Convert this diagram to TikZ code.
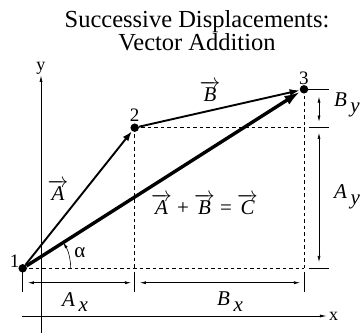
\documentclass[tikz,border=0pt]{standalone}
\usepackage{fontspec}
\setmainfont{Liberation Serif}
\usepackage{tikz}
\usetikzlibrary{arrows.meta,positioning}
\newcommand{\vlab}[1]{$\overrightarrow{\textit{#1}}$}
\newcommand{\vcomp}[2]{\textit{#1}\,\raisebox{-0.6ex}{\textit{#2}}}

\begin{document}
\begin{tikzpicture}[
    x=1pt, y=1pt,
    pointdot/.style={circle, fill, inner sep=0pt, minimum size=8.5pt},
    vec/.style={-{Latex[length=10pt, width=7pt]}, line width=1.9pt},
    res/.style={-{Latex[length=16pt, width=10pt]}, line width=3.4pt},
    guide/.style={line width=0.6pt, dash pattern=on 3.5pt off 3pt},
    dim/.style={{Latex[length=6pt, width=3pt]}-{Latex[length=6pt, width=3pt]}, line width=0.6pt},
    tick/.style={line width=0.6pt},
    axis/.style={-{Latex[length=7pt, width=3pt]}, line width=0.8pt},
    title/.style={align=center, font=\fontsize{24.5}{22}\selectfont},
    lab/.style={font=\fontsize{21}{21}\selectfont},
    num/.style={font=\fontsize{19}{19}\selectfont, inner sep=1pt},
    axlab/.style={font=\fontsize{18}{18}\selectfont, inner sep=1pt}
]
    \useasboundingbox (0,0) rectangle (360,333);

    % Title
    \node[title] (title) at (197,302) {Successive Displacements:\\Vector Addition};

    % Axes
    \coordinate (xa0) at (22,17);
    \coordinate (xa1) at (327,17);
    \coordinate (ya0) at (41,0);
    \coordinate (ya1) at (41,258);
    \draw[axis] (xa0) -- (xa1);
    \draw[axis] (ya0) -- (ya1);
    \node[axlab, right=1pt of xa1] (xlab) {x};
    \node[axlab, above=-1pt of ya1] (ylab) {y};

    % Points
    \node[pointdot] (p1) at (22.7,64.7) {};
    \node[pointdot] (p2) at (134.7,205.3) {};
    \node[pointdot] (p3) at (304,243.7) {};
    \node[num, above left=-4pt and -1pt of p1] (n1) {1};
    \node[num, above=1pt of p2] (n2) {2};
    \node[num, above=-1pt of p3] (n3) {3};

    % Guides
    \coordinate (q2) at (p2 |- p1);
    \coordinate (q3) at (p3 |- p1);
    \coordinate (q23) at (p3 |- p2);
    \draw[guide] (p1.center) -- (q3);
    \draw[guide] (p2.center) -- (q2);
    \draw[guide] (p2.center) -- (q23);
    \draw[guide] (p3.center) -- (q3);

    % Vectors
    \draw[vec] (p1) -- (p2);
    \draw[vec] (p2) -- (p3);
    \draw[res] (p1) -- (p3);
    \node[lab] (labA) at (58,143) {\vlab{A}};
    \node[lab] (labB) at (210,242) {\vlab{B}};
    \node[lab] (labC) at (204.5,129) {\vlab{A} + \vlab{B} = \vlab{C}};

    % Angle
    \draw[-{Latex[length=6pt, width=3pt]}, line width=0.6pt] ([xshift=48pt]p1.center) arc[start angle=0, end angle=32.5, radius=48pt];
    \node[lab] (alpha) at (80,80) {α};

    % Right dimensions
    \coordinate (r3) at (329,243.7);
    \coordinate (r2a) at (309,205.3);
    \coordinate (r2b) at (329,205.3);
    \coordinate (r1a) at (309,64.7);
    \coordinate (r1b) at (329,64.7);
    \draw[tick] (p3.center) -- (r3);
    \draw[tick] (r2a) -- (r2b);
    \draw[tick] (r1a) -- (r1b);
    \coordinate (by0) at (319,236.3);
    \coordinate (by1) at (319,211.3);
    \coordinate (ay0) at (319,200);
    \coordinate (ay1) at (319,71);
    \draw[dim] (by0) -- (by1);
    \draw[dim] (ay0) -- (ay1);
    \node[lab] (labBy) at (347,228) {\vcomp{B}{y}};
    \node[lab] (labAy) at (347,136) {\vcomp{A}{y}};

    % Bottom dimensions
    \coordinate (b1) at (22.7,41);
    \coordinate (b2a) at (134.7,61);
    \coordinate (b2b) at (134.7,41);
    \coordinate (b3a) at (304,61);
    \coordinate (b3b) at (304,41);
    \draw[tick] (p1.center) -- (b1);
    \draw[tick] (b2a) -- (b2b);
    \draw[tick] (b3a) -- (b3b);
    \coordinate (ax0) at (28,50.3);
    \coordinate (ax1) at (131,50.3);
    \coordinate (bx0) at (140,50.3);
    \coordinate (bx1) at (300,50.3);
    \draw[dim] (ax0) -- (ax1);
    \draw[dim] (bx0) -- (bx1);
    \node[lab] (labAx) at (75,31) {\vcomp{A}{x}};
    \node[lab] (labBx) at (230,31) {\vcomp{B}{x}};
\end{tikzpicture}
\end{document}
